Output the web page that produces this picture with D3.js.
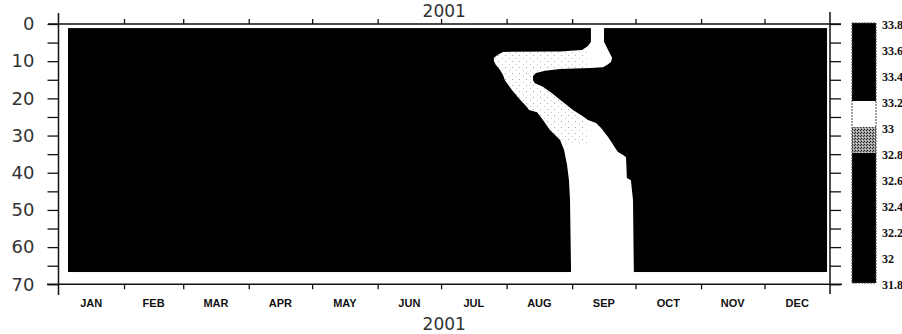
<!DOCTYPE html>
<html>
<head>
<meta charset="utf-8">
<script src="https://cdn.jsdelivr.net/npm/d3@7"></script>
<style>
	body { margin: 0; background: #fff; }
	svg { display: block; }
</style>
</head>
<body>
<svg id="chart" width="902" height="334"></svg>
<script>
'use strict';

// data: salinity section for 2001, depth 0-70 m
const year = 2001;
const fieldDays = [4.5, 363.6];      // first / last profile, day of year
const fieldDepths = [1.1, 66.7];     // shallowest / deepest level, m
const backgroundSalinity = 33.5;     // everything outside the band reads black
const bandSalinity = 33.1;

// edges of the 33.0-33.2 band, [depth m, day of year]
const bandLeft = [
	[0.9, 251.9], [4.8, 251.9], [5.9, 250.5], [7.0, 247.7], [7.4, 237.3],
	[7.5, 210.3], [8.3, 207.9], [9.1, 206.0], [10.0, 206.0], [11.0, 207.0],
	[12.4, 208.9], [13.7, 210.3], [15.1, 211.2], [17.8, 214.6], [20.4, 218.4],
	[22.3, 221.6], [23.1, 222.6], [23.7, 226.4], [25.8, 229.2], [28.5, 232.5],
	[31.2, 237.3], [33.9, 239.2], [37.9, 240.6], [42.0, 241.5], [47.3, 242.0],
	[66.9, 242.5]
];
const bandRight = [
	[0.9, 258.1], [4.8, 258.1], [7.0, 260.0], [9.1, 261.9], [10.2, 261.4],
	[11.0, 259.5], [11.6, 257.6], [11.8, 251.5], [12.1, 237.3], [12.6, 230.2],
	[13.2, 225.9], [14.0, 224.5], [15.1, 224.5], [15.9, 225.4], [16.9, 229.2],
	[18.6, 233.5], [20.4, 237.3], [23.1, 243.4], [24.7, 247.7], [25.8, 250.5],
	[26.6, 254.3], [28.0, 256.7], [30.4, 260.0], [32.0, 261.9], [33.3, 263.3],
	[34.4, 264.7], [35.2, 267.1], [35.8, 268.5], [41.4, 268.9], [42.0, 270.8],
	[47.3, 271.8], [66.9, 272.2]
];
// part of the band that is speckled (values near 33.0)
const speckleDepths = [7.4, 32];
const speckleDays = [200, 250];

const salinityBreaks = [31.8, 32, 32.2, 32.4, 32.6, 32.8, 33, 33.2, 33.4, 33.6, 33.8];
const depthTicks = [0, 5, 10, 15, 20, 25, 30, 35, 40, 45, 50, 55, 60, 65, 70];

// scales
const t0 = new Date(Date.UTC(year, 0, 1));
const t1 = new Date(Date.UTC(year + 1, 0, 1));
const dayToDate = d => new Date(+t0 + d * 864e5);

const x = d3.scaleUtc().domain([t0, t1]).range([58.5, 830]);
const y = d3.scaleLinear().domain([0, 70]).range([24, 284.3]);
const cy = d3.scaleLinear()
	.domain([salinityBreaks[0], salinityBreaks[salinityBreaks.length - 1]])
	.range([283, 23]);
const color = d3.scaleThreshold()
	.domain([32.8, 33.0, 33.2])
	.range(["#000", "url(#dotsDark)", "#fff", "#000"]);

const svg = d3.select("#chart");
const defs = svg.append("defs");

// stipple patterns
const dark = defs.append("pattern").attr("id", "dotsDark")
	.attr("patternUnits", "userSpaceOnUse").attr("width", 3).attr("height", 3);
dark.append("rect").attr("width", 3).attr("height", 3).attr("fill", "#9a9a9a");
dark.append("rect").attr("x", 0).attr("y", 0).attr("width", 1).attr("height", 1).attr("fill", "#222");
dark.append("rect").attr("x", 2).attr("y", 1).attr("width", 1).attr("height", 1).attr("fill", "#333");
dark.append("rect").attr("x", 1).attr("y", 2).attr("width", 1).attr("height", 1).attr("fill", "#ddd");

const light = defs.append("pattern").attr("id", "dotsLight")
	.attr("patternUnits", "userSpaceOnUse").attr("width", 7).attr("height", 6);
light.append("rect").attr("x", 1).attr("y", 1).attr("width", 1).attr("height", 1).attr("fill", "#aaa");
light.append("rect").attr("x", 5).attr("y", 4).attr("width", 1).attr("height", 1).attr("fill", "#c4c4c4");

// field
const plot = svg.append("g");

plot.append("rect")
	.attr("x", x(dayToDate(fieldDays[0])))
	.attr("y", y(fieldDepths[0]))
	.attr("width", x(dayToDate(fieldDays[1])) - x(dayToDate(fieldDays[0])))
	.attr("height", y(fieldDepths[1]) - y(fieldDepths[0]))
	.attr("fill", color(backgroundSalinity));

const outline = bandLeft.concat(bandRight.slice().reverse());
const bandPath = d3.line()
	.x(p => x(dayToDate(p[1])))
	.y(p => y(p[0]))
	.curve(d3.curveLinearClosed)(outline);

plot.append("path").attr("d", bandPath).attr("fill", color(bandSalinity));

defs.append("clipPath").attr("id", "bandClip").append("path").attr("d", bandPath);
plot.append("rect")
	.attr("clip-path", "url(#bandClip)")
	.attr("x", x(dayToDate(speckleDays[0])))
	.attr("y", y(speckleDepths[0]))
	.attr("width", x(dayToDate(speckleDays[1])) - x(dayToDate(speckleDays[0])))
	.attr("height", y(speckleDepths[1]) - y(speckleDepths[0]))
	.attr("fill", "url(#dotsLight)");

// axes
const ink = "#111";
const monthStarts = d3.utcMonth.range(t0, t1);

const styleAxis = g => {
	g.select(".domain").remove();
	g.selectAll(".tick line").attr("stroke", ink).attr("stroke-width", 1.3);
};

svg.append("g")
	.attr("transform", `translate(0,${y(0)})`)
	.call(d3.axisTop(x).tickValues(monthStarts.slice(1)).tickSize(5).tickFormat(""))
	.call(styleAxis);

svg.append("g")
	.attr("transform", `translate(0,${y(70)})`)
	.call(d3.axisBottom(x).tickValues(monthStarts.slice(1)).tickSize(5).tickFormat(""))
	.call(styleAxis);

svg.append("g")
	.attr("transform", `translate(${x(t0)},0)`)
	.call(d3.axisLeft(y).tickValues(depthTicks).tickSize(11).tickPadding(13)
		.tickFormat(d => d % 10 === 0 ? d : ""))
	.call(styleAxis)
	.call(g => g.selectAll("text")
		.attr("font-family", "'DejaVu Sans', sans-serif")
		.attr("font-size", 18)
		.attr("fill", "#333"));

svg.append("g")
	.attr("transform", `translate(${x(t1)},0)`)
	.call(d3.axisRight(y).tickValues(depthTicks).tickSize(11).tickFormat(""))
	.call(styleAxis);

// frame lines, running a little past the corners
const frame = svg.append("g").attr("stroke", ink).attr("stroke-width", 1.5);
frame.append("line").attr("x1", x(t0)).attr("x2", x(t0)).attr("y1", 13).attr("y2", 295);
frame.append("line").attr("x1", x(t1)).attr("x2", x(t1)).attr("y1", 12).attr("y2", 294);
frame.append("line").attr("x1", 48).attr("x2", 841).attr("y1", y(0)).attr("y2", y(0));
frame.append("line").attr("x1", 47).attr("x2", 842).attr("y1", y(70)).attr("y2", y(70));

// month labels, centred in each month
svg.append("g")
	.selectAll("text")
	.data(monthStarts)
	.join("text")
	.attr("x", m => x(new Date((+m + +d3.utcMonth.offset(m, 1)) / 2)))
	.attr("y", 307)
	.attr("text-anchor", "middle")
	.attr("font-family", "'Liberation Sans', Arial, sans-serif")
	.attr("font-weight", "bold")
	.attr("font-size", 11)
	.attr("fill", ink)
	.text(m => d3.utcFormat("%b")(m).toUpperCase());

// year titles
[17, 330].forEach(yy => svg.append("text")
	.attr("x", (x(t0) + x(t1)) / 2)
	.attr("y", yy)
	.attr("text-anchor", "middle")
	.attr("font-family", "'DejaVu Sans', sans-serif")
	.attr("font-size", 17)
	.attr("fill", "#333")
	.text(year));

// colour bar
const bar = svg.append("g");
bar.selectAll("rect")
	.data(d3.pairs(salinityBreaks))
	.join("rect")
	.attr("x", 852)
	.attr("width", 24)
	.attr("y", d => cy(d[1]))
	.attr("height", d => cy(d[0]) - cy(d[1]))
	.attr("fill", d => color((d[0] + d[1]) / 2));

bar.append("rect")
	.attr("x", 852).attr("width", 24)
	.attr("y", cy.range()[1]).attr("height", cy.range()[0] - cy.range()[1])
	.attr("fill", "none")
	.attr("stroke", "#444")
	.attr("stroke-dasharray", "2,1");

bar.selectAll("text")
	.data(salinityBreaks)
	.join("text")
	.attr("x", 882)
	.attr("y", d => cy(d) + 2)
	.attr("dy", "0.35em")
	.attr("font-family", "'Liberation Serif', 'Times New Roman', serif")
	.attr("font-weight", "bold")
	.attr("font-size", 12)
	.attr("fill", ink)
	.text(d => String(d));
</script>
</body>
</html>
